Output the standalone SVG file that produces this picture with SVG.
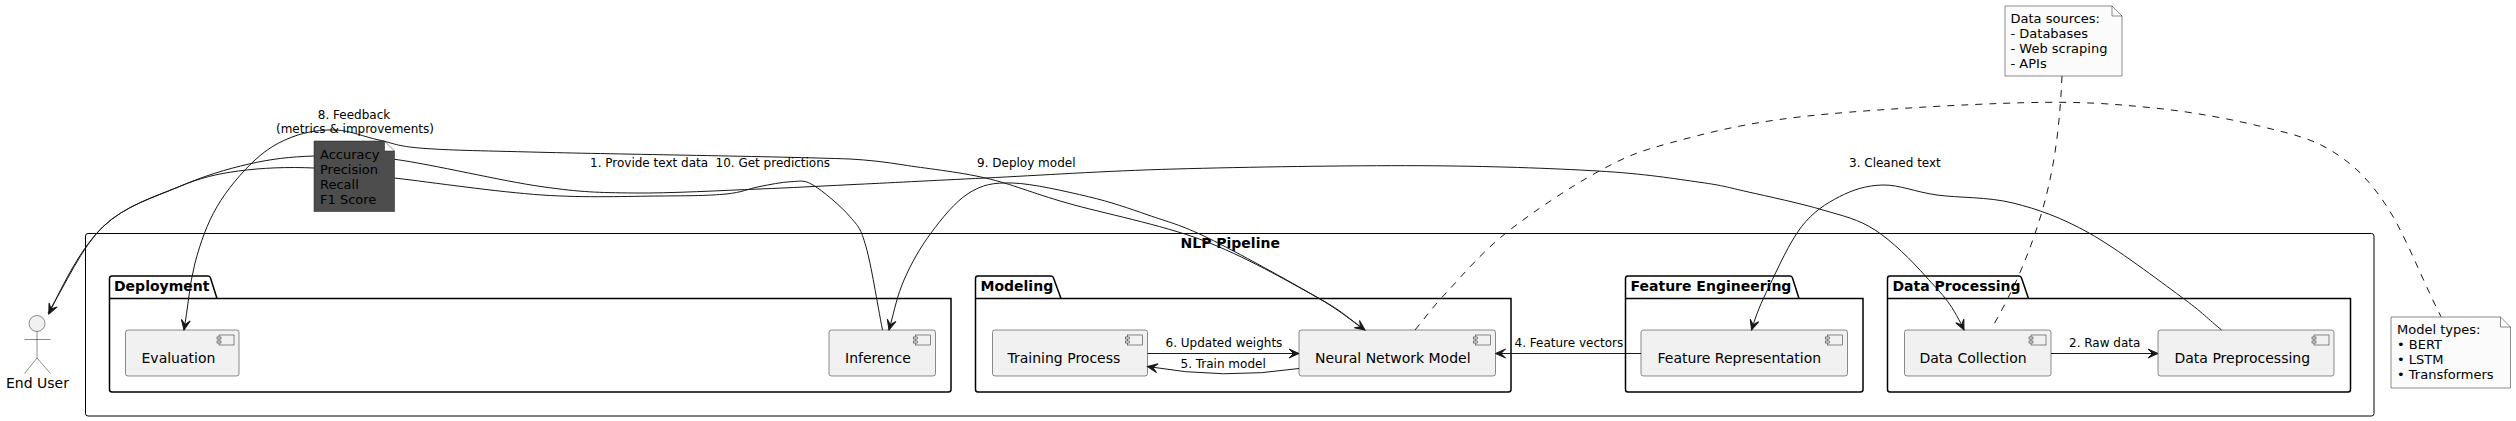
<svg xmlns="http://www.w3.org/2000/svg" width="2516" height="421" viewBox="0 0 2516 421">
<style>
text{font-family:"DejaVu Sans",sans-serif;fill:#000}
.lbl{font-size:12px}
.nl{font-size:13px}
.nt{font-size:14px}
.ttl{font-size:14px;font-weight:bold}
.cl{fill:none;stroke:#000;stroke-width:1}
.pk{fill:none;stroke:#000;stroke-width:1.5}
.cmp{fill:#F1F1F1;stroke:#181818;stroke-width:.5}
.ic{fill:#F1F1F1;stroke:#181818;stroke-width:.5}
.e{fill:none;stroke:#181818;stroke-width:1}
.d{fill:none;stroke:#181818;stroke-width:1;stroke-dasharray:7 7}
.note{fill:#FBFBFB;stroke:#181818;stroke-width:.5}
.dark{fill:#4D4D4D;stroke:#181818;stroke-width:.5}
.act{fill:#F1F1F1;stroke:#181818;stroke-width:.5}
</style>
<defs>
<marker id="a" markerUnits="userSpaceOnUse" markerWidth="12" markerHeight="12" viewBox="-11 -6 12 12" refX="0" refY="0" orient="auto-start-reverse"><path d="M0,0 L-10,-4.5 L-5.5,0 L-10,4.5 Z" fill="#181818" stroke="#181818" stroke-width="1"/></marker>
<symbol id="icon" overflow="visible"><rect class="ic" x="-20" y="5" width="15" height="10"/><rect class="ic" x="-22" y="7" width="4" height="2"/><rect class="ic" x="-22" y="11" width="4" height="2"/></symbol>
</defs>
<g id="cluster-nlp"><rect class="cl" x="85.5" y="233.5" width="2288.5" height="182.5" rx="2.5"/><text class="ttl" x="1180.5" y="247.5">NLP Pipeline</text></g>
<g id="pkg-deployment"><path class="pk" d="M109.5,298.5 V278.5 Q109.5,276 112,276 H208 Q210,276 210.5,278 L217,298.5 M109.5,298.5 H951 V389.5 Q951,392 948.5,392 H112 Q109.5,392 109.5,389.5 Z"/><text class="ttl" x="114" y="291">Deployment</text></g>
<g id="pkg-modeling"><path class="pk" d="M975.5,298.5 V278.5 Q975.5,276 978,276 H1051 Q1053,276 1053.5,278 L1061,298.5 M975.5,298.5 H1511 V389.5 Q1511,392 1508.5,392 H978 Q975.5,392 975.5,389.5 Z"/><text class="ttl" x="980.5" y="291">Modeling</text></g>
<g id="pkg-feature"><path class="pk" d="M1625.5,298.5 V278.5 Q1625.5,276 1628,276 H1790 Q1792,276 1792.5,278 L1799,298.5 M1625.5,298.5 H1863 V389.5 Q1863,392 1860.5,392 H1628 Q1625.5,392 1625.5,389.5 Z"/><text class="ttl" x="1630.5" y="291">Feature Engineering</text></g>
<g id="pkg-data"><path class="pk" d="M1887.5,298.5 V278.5 Q1887.5,276 1890,276 H2019 Q2021,276 2021.5,278 L2028.5,298.5 M1887.5,298.5 H2350.5 V389.5 Q2350.5,392 2348,392 H1890 Q1887.5,392 1887.5,389.5 Z"/><text class="ttl" x="1892.5" y="291">Data Processing</text></g>
<g id="evaluation"><rect class="cmp" x="125.5" y="330" width="113.5" height="46" rx="2.5"/><use href="#icon" x="239" y="330"/><text class="nt" x="141.5" y="362.5">Evaluation</text></g>
<g id="inference"><rect class="cmp" x="829" y="330" width="106.5" height="46" rx="2.5"/><use href="#icon" x="935.5" y="330"/><text class="nt" x="845" y="362.5">Inference</text></g>
<g id="training"><rect class="cmp" x="992.5" y="330" width="155" height="46" rx="2.5"/><use href="#icon" x="1147.5" y="330"/><text class="nt" x="1007.5" y="362.5">Training Process</text></g>
<g id="neural"><rect class="cmp" x="1299" y="330" width="196.5" height="46" rx="2.5"/><use href="#icon" x="1495.5" y="330"/><text class="nt" x="1315" y="362.5">Neural Network Model</text></g>
<g id="feature-rep"><rect class="cmp" x="1641" y="330" width="206.5" height="46" rx="2.5"/><use href="#icon" x="1847.5" y="330"/><text class="nt" x="1657.5" y="362.5">Feature Representation</text></g>
<g id="collection"><rect class="cmp" x="1904.5" y="330" width="146.5" height="46" rx="2.5"/><use href="#icon" x="2051" y="330"/><text class="nt" x="1919.5" y="362.5">Data Collection</text></g>
<g id="preprocessing"><rect class="cmp" x="2158" y="330" width="176" height="46" rx="2.5"/><use href="#icon" x="2334" y="330"/><text class="nt" x="2174.5" y="362.5">Data Preprocessing</text></g>
<g id="end-user"><circle class="act" cx="37" cy="323.5" r="8"/><path class="act" d="M37,331.5 V358 M24.5,339.5 H50.5 M37,358 L24.5,373.5 M37,358 L50.5,373.5" fill="none"/><text class="nt" x="37.5" y="387.5" text-anchor="middle">End User</text></g>
<g id="connectors">
<path class="e" marker-end="url(#a)" d="M48,313 C66,284 81.2,247.7 103,226.7 S154.7,197.2 179,186.7 S226.5,169.1 249,164 S289.7,156.8 314,156 S356.6,154.2 394.6,159.3 S502.1,181.1 542,186.7 S597.8,192.6 634,193 S723,190.4 759,189 S812.2,186.5 850,184.7 S931.3,180.6 985.5,178 S1102.7,171 1175,169 S1348.5,165.4 1419,165.7 S1551.2,168.3 1598,171 S1675.2,178.8 1700,182.3 S1726.5,187.1 1747,191.7 S1801.7,203.6 1823,210 S1857.8,218.9 1875,230 S1911.2,260 1926,276.7 S1950,300 1964,330"/>
<path class="e" marker-end="url(#a)" d="M882.5,330 C877,302 871.4,265.6 866,246.7 S858.8,227 850,216.7 S822.8,190.8 813,185 S800,181.4 791,181.7 S769.8,184.6 759,186.7 S742.5,192.4 726,194 S690.7,195.8 660,196 S586.2,198 542,195 S432.6,182.5 394.6,178 S340,169.2 314,168 S261,167.9 238.5,171 S201.6,177.4 179,186.7 S124.7,205.7 103,226.7 S64,282 48.8,314"/>
<path class="e" marker-start="url(#a)" marker-end="url(#a)" d="M184,330 C188,308 189.5,283.6 195,263 S207,223.9 217,206.7 S242.3,171.7 255,160 S279.5,141.7 293,136.7 S321.7,129.4 336,130 S364.5,137 379,140 S395.8,146.3 423,148.3 S470.8,150.5 542,152.3 S780,156.5 850,159 C868,160 886,162 904,165 S958.3,171.7 985.5,178 S1031,192.7 1067,203 S1160.5,224.4 1202,240 S1288.8,281.7 1316,296.7 S1340,312 1365,330"/>
<path class="e" marker-end="url(#a)" d="M1365,330 C1349,319 1342.2,312 1316,296.7 S1236,251.6 1208,238 S1167.9,221.9 1148,215 S1111.1,202 1088.5,196.7 S1032.5,183.6 1012.6,183 S982.6,184.7 969,193 S941.8,218.5 931,233 S911,263.8 904,280 S895,308 889,330"/>
<path class="e" marker-end="url(#a)" d="M2221.6,330 C2208,319 2203.1,312.9 2181,296.7 S2117,248.6 2089,233 S2038.3,209.3 2013,203 S1958.7,198 1937,195 S1899.3,184.7 1883,185 S1853,189.7 1839.4,196.7 S1813.2,211.7 1801.5,226.7 S1777.3,269.5 1769,286.7 S1757,312 1751.6,330"/>
<path class="e" marker-end="url(#a)" d="M1147.5,353.5 H1299"/>
<path class="e" marker-end="url(#a)" d="M1299,368.5 Q1224,380 1147.5,366.5"/>
<path class="e" marker-end="url(#a)" d="M1641,353.5 H1495.5"/>
<path class="e" marker-end="url(#a)" d="M2051,353.5 H2158"/>
<path class="d" d="M1415,330 C1425,318 1430.8,309.2 1446,293 S1480.7,253.2 1506,233 S1570.5,186.7 1598,171.7 S1637.1,151.9 1671,142.7 S1742.7,123.4 1801.5,116.7 S1965.2,104.2 2024,102.7 S2114.3,104 2154,108 S2232.2,119.4 2262,126.7 S2312.2,138.4 2333,151.7 S2369,179.2 2387,206.7 S2420,275 2441,316.7"/>
<path class="d" d="M2062,76 C2059,140 2052,200 2018,277 C2010,295 2002,310 1993,326"/>
</g>
<g id="note-metrics"><path class="dark" d="M314,141 H384.5 L394.5,151 V211.5 H314 Z M384.5,141 V151 H394.5"/><text class="nl" x="320" y="159">Accuracy</text><text class="nl" x="320" y="174">Precision</text><text class="nl" x="320" y="189">Recall</text><text class="nl" x="320" y="204">F1 Score</text></g>
<g id="note-sources"><path class="note" d="M2005,6 H2112 L2122,16 V76 H2005 Z M2112,6 V16 H2122"/><text class="nl" x="2010.5" y="23">Data sources:</text><text class="nl" x="2010.5" y="38">- Databases</text><text class="nl" x="2010.5" y="53">- Web scraping</text><text class="nl" x="2010.5" y="68">- APIs</text></g>
<g id="note-models"><path class="note" d="M2391,317 H2500.5 L2510.5,327 V388 H2391 Z M2500.5,317 V327 H2510.5"/><text class="nl" x="2397" y="334">Model types:</text><text class="nl" x="2397" y="349">• BERT</text><text class="nl" x="2397" y="364">• LSTM</text><text class="nl" x="2397" y="379">• Transformers</text></g>
<g id="labels">
<text class="lbl" x="354" y="118.5" text-anchor="middle">8. Feedback</text>
<text class="lbl" x="355" y="132.5" text-anchor="middle">(metrics &amp; improvements)</text>
<text class="lbl" x="590" y="166.5">1. Provide text data</text>
<text class="lbl" x="715.5" y="166.5">10. Get predictions</text>
<text class="lbl" x="977" y="166.5">9. Deploy model</text>
<text class="lbl" x="1849" y="166.5">3. Cleaned text</text>
<text class="lbl" x="1165.5" y="346.5">6. Updated weights</text>
<text class="lbl" x="1180.5" y="367.5">5. Train model</text>
<text class="lbl" x="1514.5" y="346.5">4. Feature vectors</text>
<text class="lbl" x="2069" y="346.5">2. Raw data</text>
</g>
</svg>
